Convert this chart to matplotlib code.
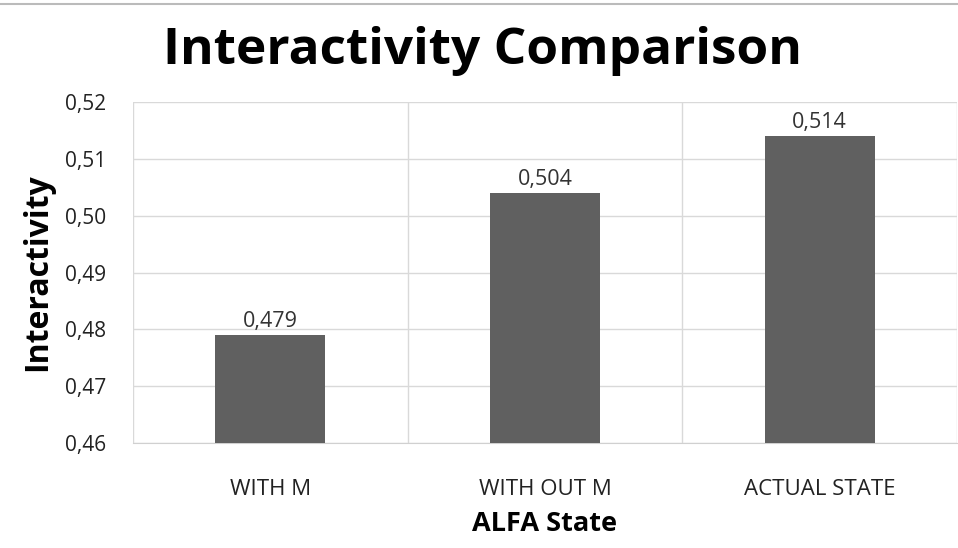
import numpy as np
import matplotlib.pyplot as plt
from matplotlib.ticker import FuncFormatter, MultipleLocator

states = ['WITH M', 'WITH OUT M', 'ACTUAL STATE']
interactivity = [0.479, 0.504, 0.514]

plt.rcParams['font.family'] = ['Open Sans', 'DejaVu Sans']

fig = plt.figure(figsize=(9.58, 5.48), dpi=100)
ax = fig.add_axes([133 / 958, 1 - 443 / 548, 824 / 958, 341 / 548])

x = np.arange(len(states))
ax.bar(x, interactivity, width=0.4, color='#606060', zorder=3)

for xi, v in zip(x, interactivity):
    ax.text(xi, v + 0.0006, ('%.3f' % v).replace('.', ','), ha='center',
            va='bottom', fontsize=15.5, color='#333333')

ax.set_ylim(0.46, 0.52)
ax.set_xlim(-0.5, len(states) - 0.5)
ax.yaxis.set_major_locator(MultipleLocator(0.01))
ax.yaxis.set_major_formatter(FuncFormatter(lambda v, p: ('%.2f' % v).replace('.', ',')))
ax.grid(True, axis='y', color='#d9d9d9', lw=1, zorder=0)
for b in np.arange(-0.5, len(states), 1.0):
    ax.axvline(b, color='#d9d9d9', lw=1, zorder=0)

for s in ['top', 'right', 'left']:
    ax.spines[s].set_visible(False)
ax.spines['bottom'].set_color('#d0d0d0')
ax.tick_params(axis='both', length=0, colors='#222222')
ax.tick_params(axis='y', pad=19, labelsize=15)
ax.tick_params(axis='x', pad=26, labelsize=16)
ax.set_xticks(x)
ax.set_xticklabels(states)

ax.set_ylabel('Interactivity', fontsize=23, fontweight='bold', labelpad=8)
ax.set_xlabel('ALFA State', fontsize=19.5, fontweight='bold', labelpad=8)
fig.text(0.504, 1 - 51 / 548, 'Interactivity Comparison', ha='center',
         va='center', fontsize=37, fontweight='bold')

# thin frame line along the top edge
fig.add_artist(plt.Line2D([0, 1], [1 - 4 / 548, 1 - 4 / 548], color='#bbbbbb', lw=1.5))

fig.savefig('out.png', dpi=100)
